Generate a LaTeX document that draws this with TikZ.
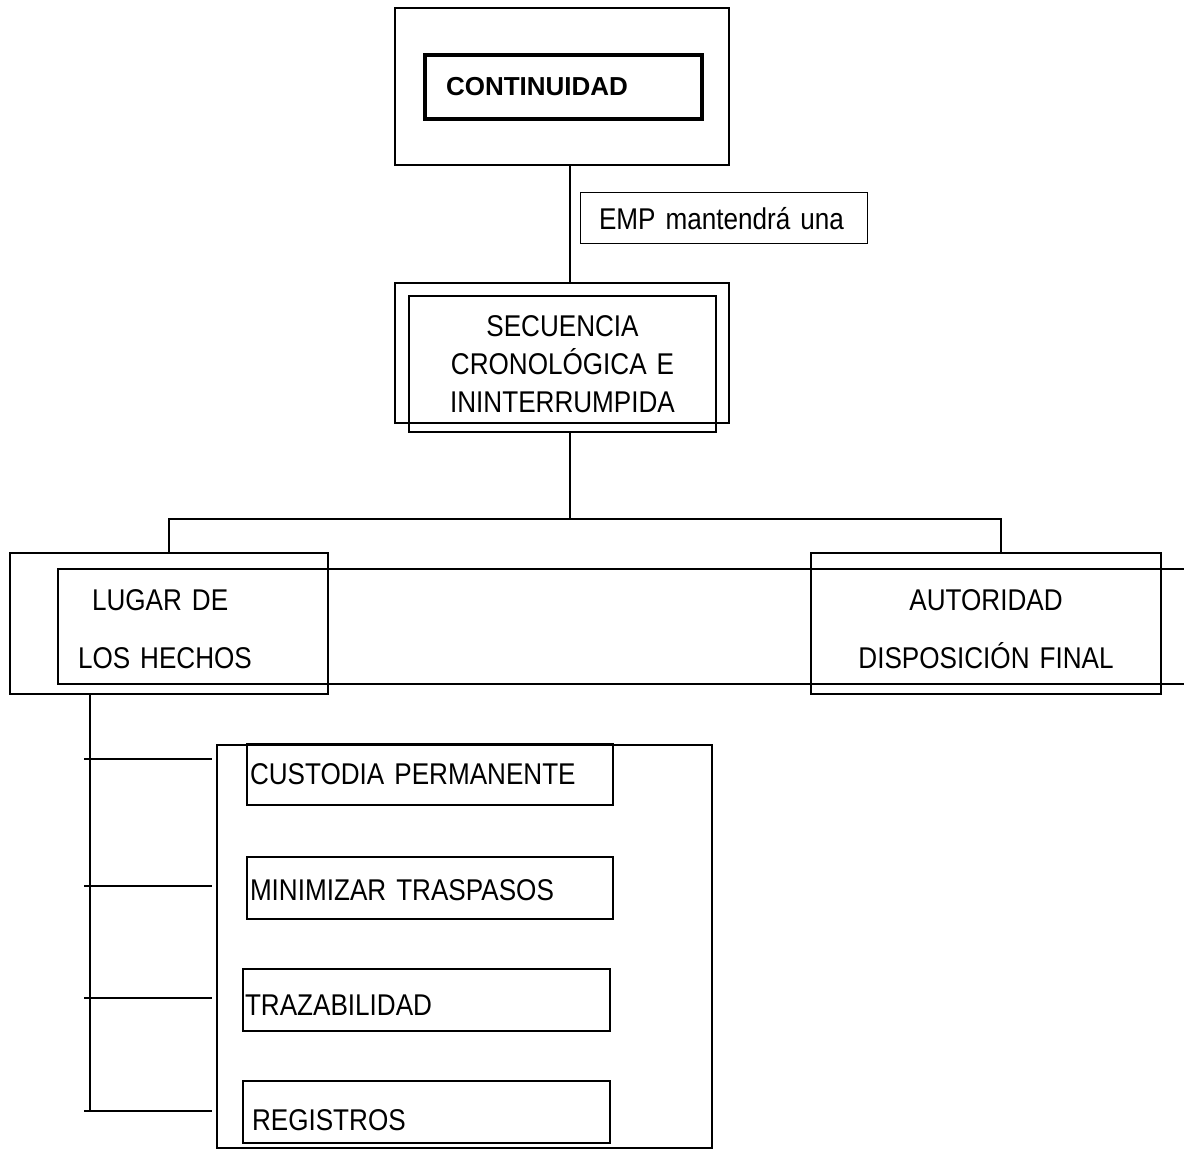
\documentclass[tikz,border=0pt]{standalone}
\usepackage{fontspec}
\setmainfont{Liberation Sans}
\newfontfamily\estrecha[FakeStretch=0.87]{Liberation Sans}
\begin{document}
\begin{tikzpicture}[x = 1pt, y = -1pt, line width = 2pt,
	caja/.style = {draw, rectangle, anchor = north west, outer sep = 0pt, inner ysep = 0pt,
		font = \estrecha\fontsize{30}{38}\selectfont},
	doble/.style = {caja, font = \estrecha\fontsize{30}{58}\selectfont, text height = 0pt, text depth = 27pt}]
	\useasboundingbox[fill = white] (0, 0) rectangle (1184, 1150);
	\clip (0, 0) rectangle (1184, 1150);

	% parte superior
	\node[caja, minimum width = 334, minimum height = 157] (marco) at (395, 8) {};
	\node[caja, line width = 4.5pt, minimum width = 277, minimum height = 64, inner xsep = 21,
		text width = 235, align = left, font = \fontsize{26}{31}\selectfont\bfseries] (cont) at (425, 55) {CONTINUIDAD};
	\node[caja, line width = 1pt, minimum width = 287, minimum height = 51, inner xsep = 19,
		text width = 249, align = left] (emp) at (580, 193) {EMP mantendrá una};
	\node[caja, minimum width = 334, minimum height = 140] (secext) at (395, 283) {};
	\node[caja, minimum width = 307, minimum height = 136, inner xsep = 10, text width = 287,
		align = center] (secint) at (409, 296)
		{SECUENCIA\\CRONOLÓGICA E\\ININTERRUMPIDA};

	% ramas
	\node[caja, line width = 1.5pt, minimum width = 1142, minimum height = 115] (franja) at (58, 569) {};
	\node[doble, minimum width = 318, minimum height = 141, inner xsep = 68, text width = 182,
		align = left] (lugar) at (10, 553) {\hspace*{14pt}LUGAR DE\\LOS HECHOS};
	\node[doble, minimum width = 350, minimum height = 141, inner xsep = 10, text width = 330,
		align = center] (autoridad) at (811, 553) {AUTORIDAD\hspace*{16pt}\\DISPOSICIÓN FINAL};

	% requisitos
	\node[caja, minimum width = 495, minimum height = 403] (grupo) at (217, 745) {};
	\node[caja, minimum width = 366, minimum height = 61, inner xsep = 3, text width = 360,
		align = left] (custodia) at (247, 744) {CUSTODIA PERMANENTE};
	\node[caja, minimum width = 366, minimum height = 62, inner xsep = 3, text width = 360,
		align = left, text height = 25pt, text depth = 0pt] (minimizar) at (247, 857) {MINIMIZAR TRASPASOS};
	\node[caja, minimum width = 367, minimum height = 62, inner xsep = 2, text width = 363,
		align = left, text height = 30pt, text depth = 0pt] (traza) at (243, 969) {TRAZABILIDAD};
	\node[caja, minimum width = 367, minimum height = 62, inner xsep = 9, text width = 349,
		align = left, text height = 37pt, text depth = 0pt] (registros) at (243, 1081) {REGISTROS};

	\coordinate (eje) at (570, 0);
	\coordinate (rama) at (570, 519);
	\coordinate (bajada) at (1001, 0);
	\coordinate (lomo) at (90, 0);

	\draw (marco.south -| eje) -- (secext.north -| eje);
	\draw (secint.south -| eje) -- (rama);
	\draw (lugar.north) |- (rama) -| (autoridad.north -| bajada);

	\foreach \y [count = \i] in {759, 886, 998, 1111} {
		\coordinate (t\i) at (84, \y);
		\draw[shorten >= 5pt] (t\i) -- (t\i -| grupo.west);
	}
	\draw (lugar.south -| lomo) -- (lomo |- t4);
\end{tikzpicture}
\end{document}
